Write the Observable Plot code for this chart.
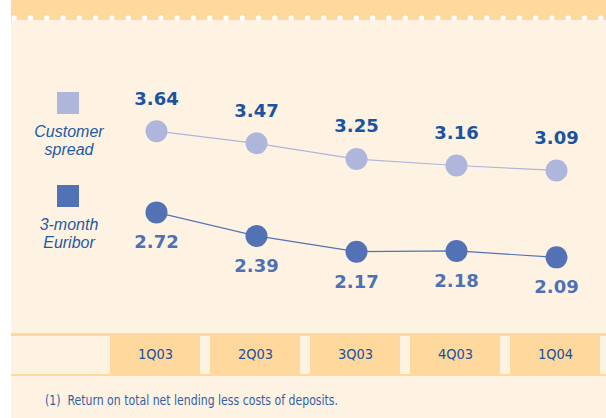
<!DOCTYPE html>
<html><head><meta charset="utf-8">
<script src="https://cdn.jsdelivr.net/npm/d3@7"></script>
<script src="https://cdn.jsdelivr.net/npm/@observablehq/plot@0.6"></script>
<style>
body{margin:0;background:#fff;}
#wrap{position:relative;width:606px;height:418px;overflow:hidden;background:#fff;}
#cream{position:absolute;left:11px;top:0;width:595px;height:418px;background:#FEF3E3;}
#topband{position:absolute;left:11px;top:0;width:595px;height:20px;background:#FFD89E;}
#dots{position:absolute;left:6px;top:14.5px;width:600px;height:6px;
  background-image:radial-gradient(circle at center,#fff 0,#fff 2.3px,rgba(255,255,255,0) 3px);
  background-size:16.3px 6px;background-repeat:repeat-x;}
.lineH{position:absolute;left:11px;width:595px;background:#FFD89E;}
.plotA{position:absolute;left:0;top:0;}
.plotB{position:absolute;left:0;top:333px;}
.sq{position:absolute;left:57px;width:22px;height:22px;}
.leg{position:absolute;left:14px;width:110px;height:18px;text-align:center;font-family:"Liberation Sans",Arial,sans-serif;font-style:italic;font-size:16px;line-height:18px;color:#1E5AA3;white-space:nowrap;}
#foot{position:absolute;left:45px;top:392px;font-family:"Liberation Sans Narrow","DejaVu Sans Condensed",sans-serif;font-size:13.5px;line-height:17px;color:#3560A5;white-space:pre;transform:scaleX(0.9);transform-origin:0 0;}
</style></head>
<body>
<div id="wrap">
  <div id="cream"></div>
  <div id="topband"></div>
  <div id="dots"></div>
  <div class="lineH" style="top:333px;height:3px"></div>
  <div class="lineH" style="top:374px;height:2px"></div>
  <div id="legend"></div>
  <div id="foot">(1)  Return on total net lending less costs of deposits.</div>
</div>
<script>
const quarters = ["1Q03","2Q03","3Q03","4Q03","1Q04"];
const customerSpread = [3.64,3.47,3.25,3.16,3.09];
const euribor3m = [2.72,2.39,2.17,2.18,2.09];
const seriesNames = [["Customer","spread"],["3-month","Euribor"]];

const lightBlue = "#AEB6DB", darkBlue = "#5272B5", orange = "#FFD89E";
const spreadRows = quarters.map((q,i)=>({q, v: customerSpread[i]}));
const euriborRows = quarters.map((q,i)=>({q, v: euribor3m[i]}));
const breakShift = 15.5; // visual axis break between the two series

const numFont = "'DejaVu Sans',sans-serif";
const chart = Plot.plot({
  width: 606, height: 333,
  margin: 0,
  style: {background: "transparent", overflow: "visible"},
  x: {type: "point", domain: quarters, range: [154.3, 556.7], padding: 0, axis: null},
  y: {domain: [2, 4], range: [247.8, 105], axis: null},
  marks: [
    Plot.line(spreadRows, {x: "q", y: "v", stroke: lightBlue, strokeWidth: 1.2}),
    Plot.line(euriborRows, {x: "q", y: "v", dy: breakShift, stroke: darkBlue, strokeWidth: 1.2}),
    Plot.dot(spreadRows, {x: "q", y: "v", r: 11, fill: lightBlue}),
    Plot.dot(euriborRows, {x: "q", y: "v", r: 11, dy: breakShift, fill: darkBlue}),
    Plot.text(spreadRows, {x: "q", y: "v", text: d => d.v.toFixed(2), lineAnchor: "bottom", dy: -26.7,
      fill: "#1A54A0", fontWeight: "bold", fontSize: 18, fontFamily: numFont}),
    Plot.text(euriborRows, {x: "q", y: "v", text: d => d.v.toFixed(2), lineAnchor: "bottom", dy: breakShift + 36,
      fill: "#4F70B5", fontWeight: "bold", fontSize: 18, fontFamily: numFont})
  ]
});
chart.classList.add("plotA");
document.getElementById("wrap").appendChild(chart);

const band = Plot.plot({
  width: 606, height: 43,
  margin: 0,
  style: {background: "transparent", fontFamily: "'Liberation Sans Narrow','DejaVu Sans Condensed',sans-serif", fontSize: "14.5px"},
  x: {type: "band", domain: quarters, range: [104, 607], paddingInner: 0.1, paddingOuter: 0.05},
  marks: [
    Plot.cell(quarters, {x: d => d, fill: orange}),
    Plot.axisX({anchor: "top", tickSize: 0, tickPadding: 0, lineAnchor: "middle", dy: 21, fill: "#1A50A0", label: null})
  ]
});
band.classList.add("plotB");
document.getElementById("wrap").appendChild(band);

// legend
const leg = document.getElementById("legend");
const sqTops = [92, 185];
const textTops = [[123, 141], [216, 234]];
[lightBlue, darkBlue].forEach((c, i) => {
  const s = document.createElement("div");
  s.className = "sq"; s.style.top = sqTops[i] + "px"; s.style.background = c;
  leg.appendChild(s);
  seriesNames[i].forEach((line, j) => {
    const t = document.createElement("div");
    t.className = "leg"; t.style.top = textTops[i][j] + "px";
    t.textContent = line;
    leg.appendChild(t);
  });
});
</script>
</body></html>
